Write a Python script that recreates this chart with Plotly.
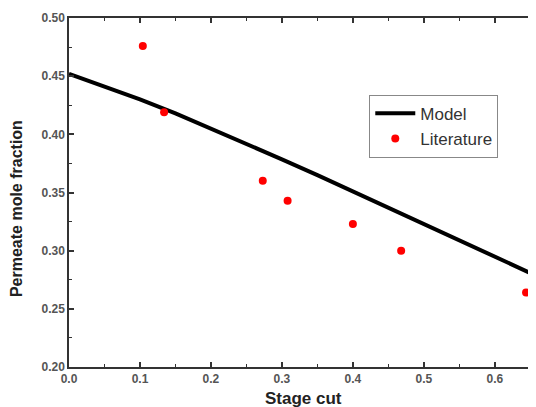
import plotly.graph_objects as go

model_x = [0.0, 0.05, 0.1, 0.15, 0.2, 0.25, 0.3, 0.35, 0.4, 0.45, 0.5, 0.55, 0.6, 0.65, 0.66]
model_y = [0.452, 0.441, 0.430, 0.418, 0.405, 0.392, 0.3785, 0.365, 0.351, 0.337, 0.323, 0.309, 0.295, 0.281, 0.278]

lit_x = [0.104, 0.134, 0.273, 0.308, 0.400, 0.468, 0.644]
lit_y = [0.476, 0.419, 0.360, 0.343, 0.323, 0.300, 0.264]

x_ticks = [0.0, 0.1, 0.2, 0.3, 0.4, 0.5, 0.6]
y_ticks = [0.20, 0.25, 0.30, 0.35, 0.40, 0.45, 0.50]

x_title = "Stage cut"
y_title = "Permeate mole fraction"

fig = go.Figure()
fig.add_trace(go.Scatter(x=model_x, y=model_y, mode="lines", name="Model",
                         line=dict(color="black", width=4)))
fig.add_trace(go.Scatter(x=lit_x, y=lit_y, mode="markers", name="Literature",
                         marker=dict(color="red", size=8), cliponaxis=False))

axis_common = dict(showgrid=False, zeroline=False, showline=True, linecolor="#333",
                   linewidth=1.5, mirror="ticks", ticks="inside", ticklen=5,
                   tickcolor="#333", tickwidth=1.5, automargin=False,
                   tickfont=dict(family="Liberation Sans, Arial", size=12, color="#555",
                                 weight="bold"),
                   minor=dict(ticks="inside", ticklen=3, tickcolor="#333", tickwidth=1.2))

fig.update_xaxes(range=[0, 0.658], tickvals=x_ticks, ticktext=[f"{v:.1f}" for v in x_ticks],
                 minor_dtick=0.05, **axis_common)
fig.update_yaxes(range=[0.2, 0.5], tickvals=y_ticks, ticktext=[f"{v:.2f}" for v in y_ticks],
                 minor_dtick=0.025, **axis_common)

title_font = dict(family="Liberation Sans, Arial", size=16, color="#222")
fig.add_annotation(text=f"<b>{y_title}</b>", xref="paper", yref="paper",
                   x=-0.111, y=0.453, textangle=-90, showarrow=False,
                   xanchor="center", yanchor="middle", font=title_font)
fig.add_annotation(text=f"<b>{x_title}</b>", xref="paper", yref="paper",
                   x=0.503, y=-0.090, showarrow=False,
                   xanchor="center", yanchor="middle",
                   font=dict(family="Liberation Sans, Arial", size=17, color="#222"))

fig.update_layout(
    width=536, height=407,
    margin=dict(l=61, r=8, t=10, b=48),
    plot_bgcolor="white", paper_bgcolor="white",
    showlegend=True,
    legend=dict(x=0.643, y=0.78, xanchor="left", yanchor="top",
                bgcolor="white", bordercolor="#888", borderwidth=1,
                font=dict(family="Liberation Sans, Arial", size=17, color="#333"),
                itemwidth=40, tracegroupgap=0),
)

fig.write_html("out.html")
